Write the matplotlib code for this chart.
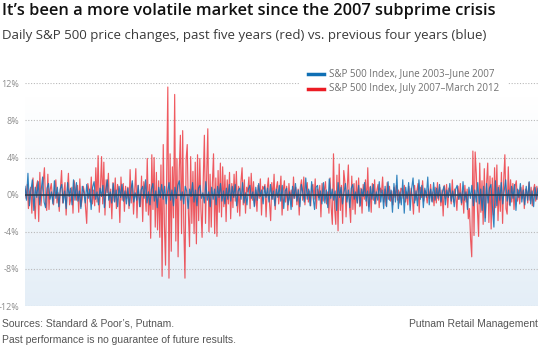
import numpy as np
import matplotlib
matplotlib.use("Agg")
import matplotlib.pyplot as plt
from matplotlib.colors import LinearSegmentedColormap
from matplotlib.lines import Line2D
from matplotlib.patches import Rectangle

# Daily % changes, S&P 500, July 2007 - March 2012 (red)
red_changes = [
    0.6, -0.4, 1.1, -1.5, 0.3, 0.8, -2.0, 1.8, -0.7, -2.6, 0.9, 1.5, -2.9, 2.4, -1.2, 0.4, 1.4, 2.9, -0.8, -1.7, 2.2, -1.6, 0.5, 1.2, -0.3, -1.1, 0.7, 1.6, -0.9, 0.2,
    -1.8, 0.7, 2.6, -0.9, 0.3, 1.3, -2.2, 0.4, 2.3, -1.1, -0.5, 0.8, -2.0, 1.5, 0.6, -0.6, 1.0, -1.9, 1.7, -1.3, -0.5, 0.9, 0.3, -1.4, -3.1, 1.2, 0.5, -0.8, 1.9, -1.0,
    0.5, -1.2, 2.9, -0.8, 4.2, -1.9, 0.7, 4.1, -1.0, 3.5, -2.2, 1.6, 0.2, 2.3, -1.4, 0.6, -2.6, 1.3, -0.7, 1.8, -1.5, 1.1, 0.4, -3.0, 1.9, -0.6, 1.2, -1.8, 0.9, -0.4,
    0.8, -1.5, 2.7, -0.9, 1.2, -2.1, 0.4, 2.8, -2.5, 1.0, -0.3, -1.3, 2.0, -2.9, 1.4, 0.6, -1.8, 3.9, -2.2, 1.1, -4.7, 4.3, -1.6, 4.0, -3.5, 2.4, -3.8, 1.5, -4.6, 3.2,
    -8.8, 5.4, -3.2, -7.6, 2.1, 11.6, -9.0, 4.4, -6.1, 3.0, -2.5, 10.8, -5.0, 3.9, -6.7, 2.6, 6.4, -4.2, 6.9, -3.3, -9.0, 3.8, 5.4, -2.0, -5.6, 4.1, -3.1, 2.5, -4.2, 3.5,
    -5.3, 4.3, -2.8, 3.9, -1.6, -4.6, 1.5, 6.4, -3.1, 2.0, 7.1, -4.0, 2.2, -3.5, 1.2, 4.4, -4.2, 1.8, -4.5, 2.6, -1.9, 3.4, -2.4, 3.0, -1.3, 2.1, -2.9, 1.6, -1.0, 2.4,
    -2.6, 1.2, -1.4, 2.2, -0.7, 2.5, -1.9, 0.9, -2.3, 1.4, 2.9, -1.1, 1.6, -2.0, 0.8, 0.3, 1.9, -1.5, 2.3, -0.6, 1.4, -1.2, 0.5, -1.8, 1.0, -0.4, 1.7, -2.2, 0.9, 0.6,
    1.1, -2.4, 0.6, 1.8, -0.9, -2.8, 1.3, -0.5, 2.2, -1.6, 0.7, 1.4, -1.0, 0.3, 2.0, -2.2, 0.4, 1.5, -0.8, 0.9, -1.7, 1.2, -0.6, 0.5, -1.3, 1.9, -0.4, 0.8, -1.1, 0.6,
    -2.2, 0.8, 1.6, -0.6, 1.9, -1.1, 0.5, 1.3, -0.8, 0.4, -1.2, 0.9, 1.1, -0.5, 1.7, -1.5, 0.6, -0.3, 1.0, -2.4, 1.2, -0.7, 0.5, 1.4, -1.0, 0.3, -2.0, 1.8, -1.4, -3.2,
    4.4, -1.5, -3.2, 2.1, -3.9, 3.3, -1.7, 1.0, -3.1, 2.6, 1.4, -2.4, 0.6, 3.2, -1.1, -3.0, 2.0, -1.6, 1.2, -2.1, 1.5, -0.9, 1.8, -1.3, 0.7, -2.0, 1.1, -0.5, 1.6, -1.2,
    2.9, -1.3, 0.8, -1.9, 1.2, -0.6, 1.6, -1.0, 0.5, 1.1, -1.4, 0.7, 0.2, 1.9, -0.8, 0.6, -1.2, 1.3, -0.5, 0.9, -0.7, 0.4, -1.1, 0.8, -0.3, 1.0, -0.6, 0.5, -0.9, 0.7,
    0.6, -0.4, 1.0, -0.8, 0.3, -1.1, 0.9, -0.5, 0.7, -0.2, -2.1, 1.0, -0.6, 0.4, 1.2, -1.9, 0.8, -0.3, 1.5, -0.7, 0.5, 0.2, -0.9, 0.6, -0.4, 1.1, -0.7, 0.3, -1.2, 0.8,
    -0.9, 1.3, -0.6, 0.8, -1.2, 0.5, -2.3, 1.0, -0.4, 1.1, -1.4, 0.7, 0.3, -1.0, 1.6, -0.8, 0.6, -0.2, -1.7, 0.9, -0.5, 1.2, -1.1, 0.4, -2.0, 1.0, -0.8, 0.6, -2.6, -1.5,
    -4.8, -6.7, 4.7, -4.4, 4.6, 2.2, -1.6, -4.5, 3.4, -1.9, 1.5, -3.2, 2.8, -2.5, 1.3, 3.4, -3.0, 2.0, -3.7, 1.8, -2.2, 2.9, -1.4, 3.2, -2.8, 1.0, -1.8, 2.4, -3.1, 1.6,
    4.3, -1.5, -2.1, 3.0, -1.1, 1.6, -0.8, 1.2, -1.6, 0.9, 1.5, -0.7, 0.5, -1.0, 0.8, -0.4, 1.0, -1.5, 0.6, 0.4, -0.9, 1.3, -0.6, 0.8, -1.2, 0.5, 1.1, -0.7, 0.9, -0.5,
]

# Daily % changes, S&P 500, June 2003 - June 2007 (blue)
blue_changes = [
    0.9, -0.6, 2.3, -1.2, 0.4, 1.6, -1.7, 0.8, -0.3, 1.4, -1.1, 0.5, 1.9, -0.8, -1.4, 0.7, 1.2, -0.5, 0.3, -1.0, 1.5, -0.4, 0.8, -1.3, 0.6, 1.1, -0.9, 0.4, -1.5, 1.3, -0.2, 0.7, -1.1, 1.6, -0.6,
    1.3, -0.7, 0.4, -1.5, 0.9, 0.2, -0.9, 1.1, -0.4, 0.6, -1.6, 0.8, 1.4, -0.5, 0.3, -1.1, 0.7, -0.2, 1.0, -1.4, 0.5, 1.6, -0.6, 0.3, -0.9, 1.2, -0.8, 0.5, -1.3, 0.9, -0.3, 1.1, -0.7, 0.4, -1.0,
    0.7, -1.2, 0.4, 1.5, -0.8, 0.2, -0.6, 1.0, -1.3, 0.5, 0.9, -0.4, 1.6, -0.9, 0.3, -1.1, 0.6, 1.2, -0.7, 0.4, -1.4, 0.8, -0.3, 1.1, -0.5, 0.9, -1.0, 0.3, 1.3, -0.6, 0.5, -1.2, 0.8, -0.4, 1.0,
    1.5, -0.6, 0.3, -1.0, 0.9, 0.4, -1.5, 0.6, -0.2, 1.3, -0.8, 0.5, -1.2, 0.7, 1.0, -0.4, 0.2, -0.9, 1.4, -0.6, 0.3, -1.3, 0.8, -0.5, 0.6, -1.1, 0.9, -0.3, 1.2, -0.7, 0.4, -1.0, 0.7, -0.5, 1.1,
    -0.7, 0.9, -0.3, 1.1, -1.2, 0.4, 0.7, -0.5, 1.3, -0.9, 0.2, -1.1, 0.6, 1.0, -0.4, 0.3, -1.3, 0.8, -0.6, 1.2, -0.2, 0.5, -1.0, 0.9, -0.3, 0.7, -0.8, 1.1, -0.5, 0.4, -1.2, 0.6, -0.3, 1.0, -0.7,
    1.0, -1.5, 0.4, 0.7, -1.1, 0.3, -1.6, 0.9, -0.4, 1.2, -0.7, 0.5, -1.3, 1.1, 0.2, -0.8, 1.8, -0.5, 0.6, -1.2, 1.4, -0.3, -1.6, 0.8, 1.0, -0.6, 0.4, -1.0, 1.3, -0.9, 0.5, -1.4, 1.7, -0.4, 0.6,
    -0.6, 0.4, -1.7, 1.3, -0.3, 0.8, -1.0, 0.2, 1.2, -0.8, 0.5, -1.4, 0.7, 1.1, -0.5, 0.3, -0.9, 1.0, -1.2, 0.6, -0.2, 1.3, -0.7, 0.4, -1.8, 0.9, -0.5, 1.1, -1.0, 0.3, -0.6, 1.4, -0.8, 0.5, -1.5,
    0.9, -1.3, 1.4, -0.6, 0.5, -1.9, 1.2, -0.8, 2.1, -1.5, 0.3, -1.1, 1.6, -2.0, 0.8, -0.4, 1.3, -1.7, 0.6, 1.8, -0.9, 0.4, -1.2, 1.6, -0.5, 1.0, -1.4, 0.7, -0.3, 1.9, -1.1, 0.6, -0.8, 1.3, -0.6,
    0.7, -0.4, 1.1, -0.8, 0.3, 0.9, -1.1, 0.5, -0.3, 1.2, -0.7, 0.4, -1.3, 0.6, 1.0, -0.5, 0.2, -0.9, 1.4, -0.6, 0.3, -1.6, 0.8, -0.4, 1.0, -1.2, 0.5, -0.8, 1.3, -1.0, 0.6, -1.7, 0.9, -2.9, 1.2,
    -0.9, 0.7, 1.1, -1.4, -3.5, 1.5, -1.2, 0.8, -0.6, 1.3, -1.0, 0.4, 1.6, -0.7, 0.5, -1.2, 0.9, -0.4, 1.1, -1.7, 0.6, -0.3, 1.2, -0.8, 0.5, -1.1, 0.9, -0.6, 1.4, -1.0, 0.4, -1.3, 0.8, -0.5, 0.7,
]

y_ticks = [-12, -8, -4, 0, 4, 8, 12]
y_tick_labels = ["-12%", "-8%", "-4%", "0%", "4%", "8%", "12%"]
series_labels = ["S&P 500 Index, June 2003\u2013June 2007", "S&P 500 Index, July 2007\u2013March 2012"]

RED = "#ec1c24"
BLUE = "#0f6fb4"

W, H = 545, 350
fig = plt.figure(figsize=(W / 100, H / 100), dpi=100)
fig.patch.set_facecolor("white")

ax_left, ax_right = 25 / W, 538 / W
ax_bottom, ax_top = 1 - 306 / H, 1 - 83.3 / H
ax = fig.add_axes([ax_left, ax_bottom, ax_right - ax_left, ax_top - ax_bottom])
ax.set_xlim(0, 1)
ax.set_ylim(-12, 12)
for s in ax.spines.values():
    s.set_visible(False)
ax.set_facecolor("white")

# background gradient
grad = np.linspace(0, 1, 256).reshape(-1, 1)
cmap = LinearSegmentedColormap.from_list("bg", ["#ffffff", "#e4eef7"])
ax.imshow(grad, extent=[0, 1, -12, 10.5], aspect="auto", cmap=cmap, origin="upper", zorder=0)

# gridlines
for t in y_ticks:
    ax.axhline(t, color="#b9b9b9", lw=0.8, ls=(0, (1, 1.5)), zorder=1)

red = np.array(red_changes)
blue = np.array(blue_changes)
xr = np.linspace(0, 1, len(red))
xb = np.linspace(0, 1, len(blue))
ax.plot(xr, red, color=RED, lw=0.85, alpha=0.72, zorder=2)
ax.plot(xb, blue, color=BLUE, lw=0.85, alpha=0.85, zorder=3)
ax.axhline(0, color="#2a3a4c", lw=1.1, zorder=4)

ax.set_yticks(y_ticks)
ax.set_yticklabels(y_tick_labels, fontsize=6.5, color="#8c8c8c", family="Open Sans")
ax.tick_params(axis="y", length=0, pad=4)
ax.set_xticks([])

# legend (white box covering gridline)
fig.add_artist(Rectangle((300 / W, 1 - 96 / H), 208 / W, 30 / H, transform=fig.transFigure,
                         facecolor="white", edgecolor="none", zorder=5))
for i, (lab, col) in enumerate(zip(series_labels, [BLUE, RED])):
    yy = 1 - (74 + 15 * i) / H
    fig.add_artist(Line2D([308 / W, 324 / W], [yy, yy], transform=fig.transFigure,
                          color=col, lw=2.5, zorder=6))
    fig.text(329 / W, yy, lab, fontsize=7.0, color="#707070", va="center", ha="left",
             family="Open Sans", zorder=6)

# titles
fig.text(2 / W, 1 - 15 / H, "It\u2019s been a more volatile market since the 2007 subprime crisis",
         fontsize=11.8, color="#111111", weight="semibold", family="Open Sans", va="baseline", ha="left")
fig.text(2 / W, 1 - 39 / H, "Daily S&P 500 price changes, past five years (red) vs. previous four years (blue)",
         fontsize=9.5, color="#3a3a3a", family="Open Sans", va="baseline", ha="left")

# footer
fig.text(2 / W, 1 - 324 / H, "Sources: Standard & Poor\u2019s, Putnam.", fontsize=7.5, color="#555555",
         family="Liberation Sans", va="center", ha="left")
fig.text(2 / W, 1 - 340 / H, "Past performance is no guarantee of future results.", fontsize=7.5,
         color="#555555", family="Liberation Sans", va="center", ha="left")
fig.text(538 / W, 1 - 324 / H, "Putnam Retail Management", fontsize=7.5, color="#555555",
         family="Liberation Sans", va="center", ha="right")

fig.savefig("out.png", dpi=100)
